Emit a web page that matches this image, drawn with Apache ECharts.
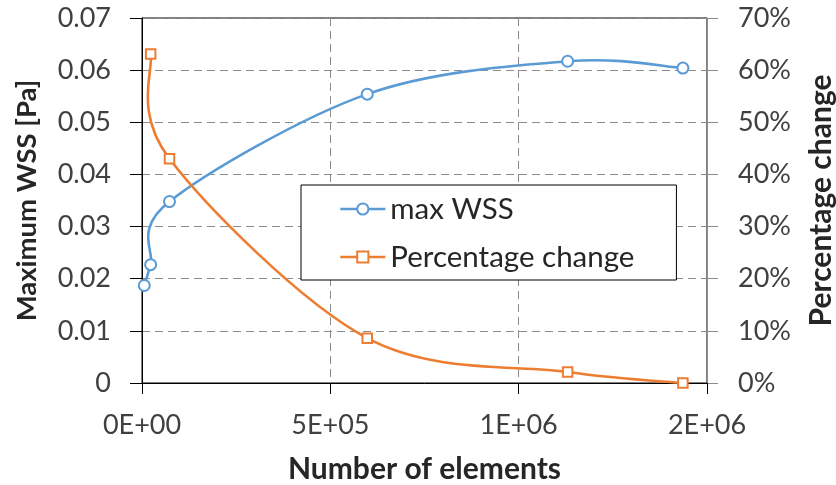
<!DOCTYPE html>
<html>
<head>
<meta charset="utf-8">
<script src="https://cdn.jsdelivr.net/npm/echarts@6/dist/echarts.min.js"></script>
<style>
html,body{margin:0;padding:0;background:#fff;}
#c{width:836px;height:485px;}
</style>
</head>
<body>
<div id="c"></div>
<script>
// Data
var elements = [6000, 23000, 73000, 598000, 1130000, 1436000];
var maxWSS = [0.0187, 0.0227, 0.0348, 0.0554, 0.0617, 0.0604];
var pctChange = [null, 63.1, 43.0, 8.6, 2.1, 0.0];

var xTickLabels = ['0E+00', '5E+05', '1E+06', '2E+06'];
var yLeftTickLabels = ['0', '0.01', '0.02', '0.03', '0.04', '0.05', '0.06', '0.07'];
var yRightTickLabels = ['0%', '10%', '20%', '30%', '40%', '50%', '60%', '70%'];

var seriesNames = ['max WSS', 'Percentage change'];
var axisNames = { x: 'Number of elements', yLeft: 'Maximum WSS [Pa]', yRight: 'Percentage change' };

var FONT = 'Lato';
var blue = '#5B9BD5';
var orange = '#ED7D31';
var LINE_W = 2.6;

function pairs(xs, ys) {
  var out = [];
  for (var i = 0; i < xs.length; i++) {
    if (ys[i] !== null) out.push([xs[i], ys[i]]);
  }
  return out;
}

var wssPts = pairs(elements, maxWSS);
var pctPts = pairs(elements, pctChange);

// Spreadsheet-style smoothed line: each data item draws the Bezier segment
// to the next item, control points taken from neighbours (Catmull-Rom, 1/6).
function smoothRenderer(pts, color) {
  return function (params, api) {
    var i = params.dataIndex;
    if (i >= pts.length - 1) return null;
    function P(k) {
      k = Math.max(0, Math.min(pts.length - 1, k));
      return api.coord(pts[k]);
    }
    var p0 = P(i - 1), p1 = P(i), p2 = P(i + 1), p3 = P(i + 2);
    var t = 1 / 6;
    return {
      type: 'bezierCurve',
      shape: {
        x1: p1[0], y1: p1[1],
        cpx1: p1[0] + (p2[0] - p0[0]) * t, cpy1: p1[1] + (p2[1] - p0[1]) * t,
        cpx2: p2[0] - (p3[0] - p1[0]) * t, cpy2: p2[1] - (p3[1] - p1[1]) * t,
        x2: p2[0], y2: p2[1]
      },
      style: { stroke: color, lineWidth: LINE_W, fill: 'none', lineCap: 'round' }
    };
  };
}

var chart = echarts.init(document.getElementById('c'), null, { renderer: 'canvas' });

var labelStyle = { fontFamily: FONT, fontSize: 27, color: '#404040' };
function nameStyle(size) {
  return { fontFamily: FONT, fontSize: size, fontWeight: 'bold', color: '#262626' };
}

var option = {
  animation: false,
  backgroundColor: '#fff',
  grid: {
    left: 142, right: 129, top: 18, bottom: 102,
    outerBoundsMode: 'none', containLabel: false,
    show: true, borderColor: '#000', borderWidth: 1, backgroundColor: 'transparent'
  },
  legend: {
    orient: 'vertical',
    left: 301, top: 185,
    backgroundColor: '#fff',
    borderColor: '#000', borderWidth: 1, borderRadius: 0,
    padding: [9, 42, 8, 38],
    itemGap: 18, itemWidth: 45, itemHeight: 14,
    textStyle: { fontFamily: FONT, fontSize: 29.5, color: '#262626' },
    lineStyle: { opacity: 1, width: LINE_W },
    data: seriesNames
  },
  xAxis: {
    type: 'value', min: 0, max: 1500000, interval: 500000,
    name: axisNames.x, nameLocation: 'middle', nameGap: 71, nameTextStyle: nameStyle(30),
    axisLine: { show: true, lineStyle: { color: '#000', width: 1 } },
    axisTick: { show: true, inside: false, length: 11, lineStyle: { color: '#000' } },
    axisLabel: Object.assign({ margin: 29, formatter: function (v) { return xTickLabels[Math.round(v / 500000)]; } }, labelStyle),
    splitLine: { show: true, lineStyle: { color: '#8c8c8c', type: [8, 5], width: 1 } }
  },
  yAxis: [
    {
      type: 'value', min: 0, max: 0.07, interval: 0.01, position: 'left',
      name: axisNames.yLeft, nameLocation: 'middle', nameGap: 101, nameTextStyle: nameStyle(27.5),
      axisLine: { show: true, lineStyle: { color: '#000', width: 1 } },
      axisTick: { show: true, inside: false, length: 12, lineStyle: { color: '#000' } },
      axisLabel: Object.assign({ margin: 31, formatter: function (v) { return yLeftTickLabels[Math.round(v / 0.01)]; } }, labelStyle),
      splitLine: { show: true, lineStyle: { color: '#8c8c8c', type: [8, 5], width: 1 } }
    },
    {
      type: 'value', min: 0, max: 70, interval: 10, position: 'right',
      name: axisNames.yRight, nameLocation: 'middle', nameGap: 99, nameRotate: 90, nameTextStyle: nameStyle(30),
      axisLine: { show: true, lineStyle: { color: '#8c8c8c', width: 1 } },
      axisTick: { show: true, inside: false, length: 11, lineStyle: { color: '#8c8c8c' } },
      axisLabel: Object.assign({ margin: 31, formatter: function (v) { return yRightTickLabels[Math.round(v / 10)]; } }, labelStyle),
      splitLine: { show: false }
    }
  ],
  series: [
    {
      name: seriesNames[0] + ' curve', type: 'custom', yAxisIndex: 0,
      data: wssPts, silent: true, z: 2,
      renderItem: smoothRenderer(wssPts, blue)
    },
    {
      name: seriesNames[1] + ' curve', type: 'custom', yAxisIndex: 1,
      data: pctPts, silent: true, z: 2,
      renderItem: smoothRenderer(pctPts, orange)
    },
    {
      name: seriesNames[0], type: 'line', yAxisIndex: 0,
      data: wssPts,
      color: blue,
      symbol: 'emptyCircle', symbolSize: 11,
      lineStyle: { color: blue, width: LINE_W, opacity: 0 },
      itemStyle: { color: blue, borderWidth: 1.5 },
      z: 3
    },
    {
      name: seriesNames[1], type: 'line', yAxisIndex: 1,
      data: pctPts,
      color: orange,
      symbol: 'emptyRect', symbolSize: 9.5,
      lineStyle: { color: orange, width: LINE_W, opacity: 0 },
      itemStyle: { color: orange, borderWidth: 1.5 },
      z: 3
    }
  ]
};

chart.setOption(option);
</script>
</body>
</html>
